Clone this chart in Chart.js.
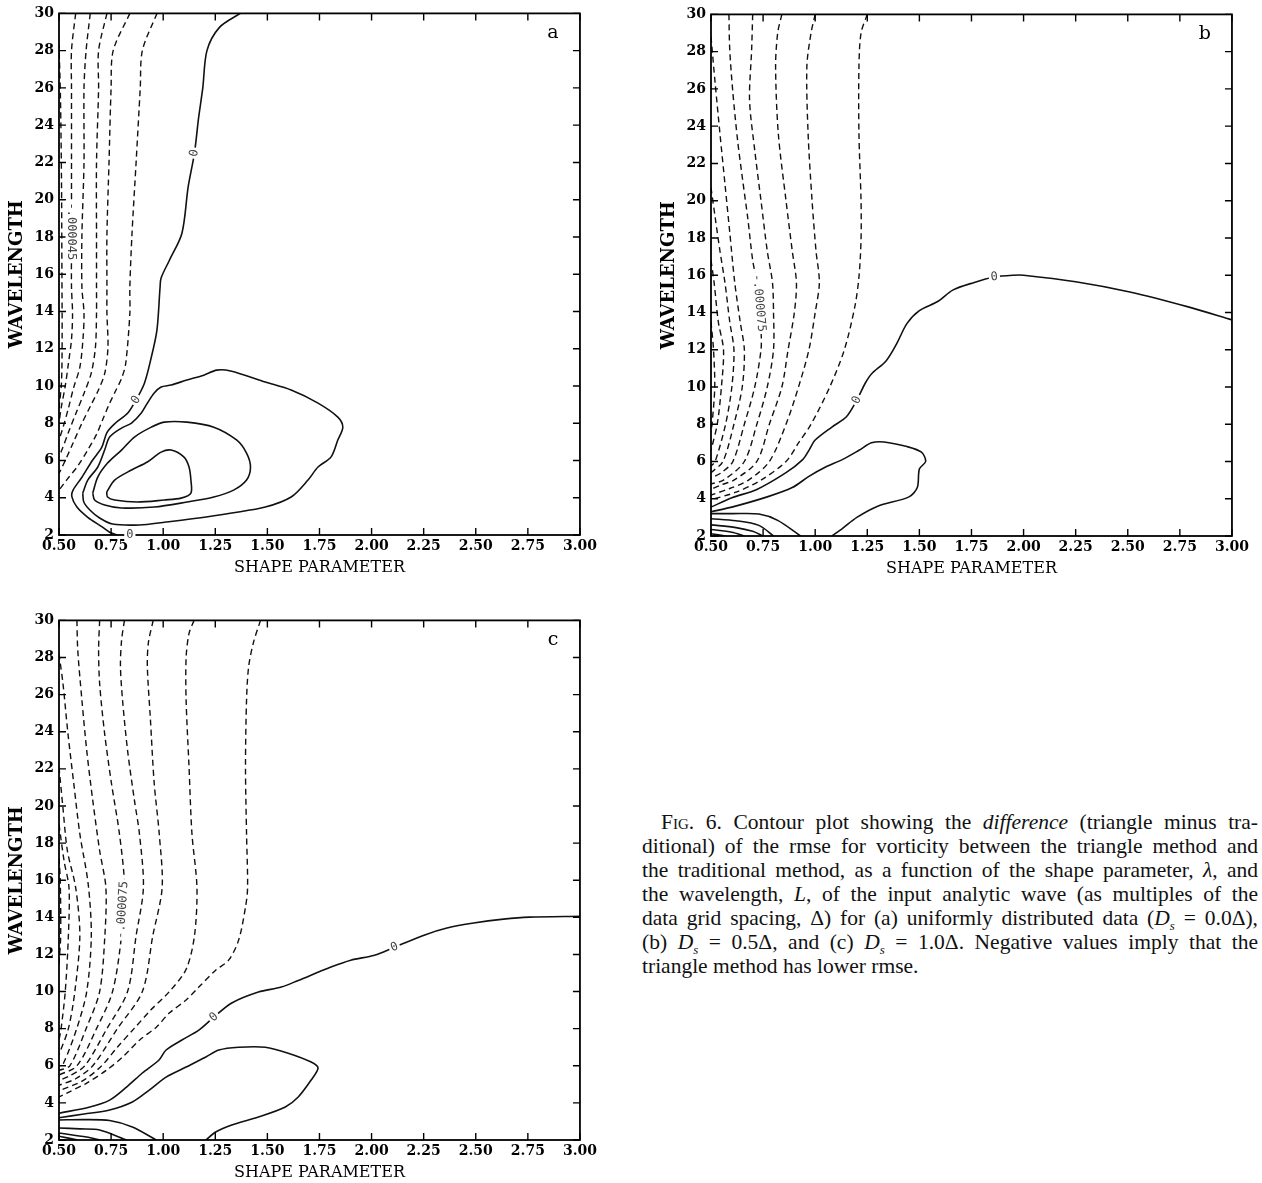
<!DOCTYPE html>
<html>
<head>
<meta charset="utf-8">
<title>Fig. 6 contour plots</title>
<script src="https://cdn.jsdelivr.net/npm/chart.js@4.4.1/dist/chart.umd.min.js"></script>
<style>
	html, body { margin: 0; padding: 0; background: #fff; }
	body { width: 1262px; height: 1183px; overflow: hidden; position: relative; }
	.panel { position: absolute; }
	#caption {
		position: absolute; left: 642px; top: 810px; width: 616px;
		font-family: 'Liberation Serif', 'Times New Roman', serif;
		font-size: 21.5px; line-height: 24px; color: #111;
	}
	#caption .ln { text-align: justify; text-align-last: justify; }
	#caption .first { padding-left: 19px; }
	#caption sub { font-size: 0.6em; vertical-align: -0.35em; line-height: 0; }
	.sc { font-variant: small-caps; }
</style>
</head>
<body>
<div class="panel" style="left:0;top:0"><canvas id="chartA" width="600" height="590"></canvas></div>
<div class="panel" style="left:652px;top:1px"><canvas id="chartB" width="600" height="590"></canvas></div>
<div class="panel" style="left:0;top:607px"><canvas id="chartC" width="600" height="588"></canvas></div>

<div id="caption">
	<div class="ln first">F<span class="sc">ig</span>. 6. Contour plot showing the <i>difference</i> (triangle minus tra-</div>
	<div class="ln">ditional) of the rmse for vorticity between the triangle method and</div>
	<div class="ln">the traditional method, as a function of the shape parameter, <i>λ</i>, and</div>
	<div class="ln">the wavelength, <i>L</i>, of the input analytic wave (as multiples of the</div>
	<div class="ln">data grid spacing, Δ) for (a) uniformly distributed data (<i>D<sub>s</sub></i> = 0.0Δ),</div>
	<div class="ln">(b) <i>D<sub>s</sub></i> = 0.5Δ, and (c) <i>D<sub>s</sub></i> = 1.0Δ. Negative values imply that the</div>
	<div>triangle method has lower rmse.</div>
</div>

<script>
(function () {
	'use strict';

	// axes: shape parameter (x) and wavelength (y)
	const xTicks = [0.5, 0.75, 1.0, 1.25, 1.5, 1.75, 2.0, 2.25, 2.5, 2.75, 3.0];
	const yTicks = [2, 4, 6, 8, 10, 12, 14, 16, 18, 20, 22, 24, 26, 28, 30];

	// ---- panel a : Ds = 0.0 ----
	const aZero = [[1.37,30],[1.27,29.25],[1.21,28],[1.19,26],[1.17,24.4],[1.15,22.5],[1.12,20.7],[1.09,18.2],[1.03,16.75],[0.99,15.8],[0.985,15.3],[0.97,13.0],[0.94,11.4],[0.91,10.15],[0.87,9.25],[0.83,8.55],[0.77,8.0],[0.73,7.5],[0.705,6.7],[0.66,6.0],[0.61,5.1],[0.567,4.4],[0.562,4.05],[0.586,3.5],[0.638,2.95],[0.705,2.45],[0.743,2.15],[0.78,2.0]];
	const aPos1 = [[0.614,4.25],[0.638,4.95],[0.686,5.65],[0.719,6.56],[0.743,7.26],[0.80,7.74],[0.848,8.01],[0.895,8.55],[0.924,9.08],[0.957,9.62],[0.99,9.94],[1.038,10.05],[1.114,10.32],[1.195,10.58],[1.257,10.85],[1.324,10.80],[1.49,10.21],[1.614,9.78],[1.743,9.08],[1.838,8.33],[1.862,7.79],[1.838,7.10],[1.805,6.18],[1.743,5.65],[1.695,4.95],[1.614,4.04],[1.49,3.50],[1.329,3.18],[1.171,2.91],[1.014,2.70],[0.886,2.54],[0.757,2.59],[0.695,2.91],[0.648,3.34],[0.619,3.77],[0.614,4.25]];
	const aPos2 = [[0.662,4.25],[0.686,5.11],[0.733,5.86],[0.80,6.56],[0.862,7.26],[0.943,7.79],[1.005,8.06],[1.114,8.06],[1.243,7.79],[1.352,7.10],[1.40,6.40],[1.419,5.65],[1.40,4.95],[1.338,4.41],[1.243,4.04],[1.114,3.77],[0.957,3.50],[0.80,3.45],[0.719,3.61],[0.671,3.88],[0.662,4.25]];
	const aPos3 = [[0.729,4.31],[0.767,4.95],[0.848,5.49],[0.924,5.92],[0.99,6.45],[1.038,6.56],[1.10,6.18],[1.124,5.65],[1.133,4.95],[1.133,4.25],[1.086,3.98],[1.005,3.88],[0.876,3.77],[0.767,3.88],[0.733,4.04],[0.729,4.31]];
	const aNeg1 = [[0.97,30],[0.90,28],[0.89,26],[0.87,22],[0.85,18.1],[0.84,15.3],[0.84,13.9],[0.82,11.2],[0.80,10.4],[0.77,9.7],[0.74,9.0],[0.71,8.2],[0.68,7.4],[0.64,6.6],[0.59,5.7],[0.54,5.0],[0.50,4.4]];
	const aNeg2 = [[0.84,30],[0.76,28],[0.75,26],[0.74,22],[0.73,18.1],[0.73,15.3],[0.73,13.9],[0.735,12.1],[0.72,10.7],[0.69,9.8],[0.65,8.9],[0.61,8.0],[0.57,7.0],[0.53,6.0],[0.50,5.3]];
	const aNeg3 = [[0.73,30],[0.69,28],[0.69,26],[0.68,22],[0.68,18.1],[0.68,15.3],[0.68,13.9],[0.675,12.1],[0.655,10.7],[0.62,9.6],[0.58,8.5],[0.545,7.5],[0.515,6.6],[0.50,6.2]];
	const aNeg4 = [[0.65,30],[0.63,28],[0.62,26],[0.62,22],[0.61,18.1],[0.61,15.3],[0.62,13.9],[0.615,12.5],[0.60,11.0],[0.57,9.9],[0.545,8.8],[0.52,7.8],[0.50,7.1]];
	const aNeg5 = [[0.58,30],[0.56,28],[0.56,26],[0.56,22],[0.56,18.1],[0.56,15.3],[0.565,13.9],[0.56,12.5],[0.545,11.2],[0.53,10.0],[0.51,8.8],[0.50,8.0]];
	const aNeg6 = [[0.50,8.8],[0.512,10.2],[0.515,12.5],[0.514,16],[0.512,21],[0.507,25.5],[0.50,28.3]];
	const aLabels = [
		{ x: 1.15, y: 22.5, text: '0', on: aZero },
		{ x: 0.87, y: 9.25, text: '0', on: aZero },
		{ x: 0.84, y: 2.0, text: '0', on: null },
		{ x: 0.56, y: 18.3, text: '-.000045', on: aNeg5 }
	];

	// ---- panel b : Ds = 0.5 ----
	const bZero = [[3.0,13.6],[2.79,14.3],[2.51,15.1],[2.25,15.65],[2.0,16.0],[1.95,16.0],[1.86,15.9],[1.76,15.6],[1.66,15.2],[1.59,14.6],[1.5,14.1],[1.44,13.4],[1.39,12.3],[1.34,11.4],[1.27,10.7],[1.24,10.2],[1.20,9.3],[1.15,8.4],[1.08,7.85],[1.0,7.15],[0.97,6.6],[0.94,6.1],[0.86,5.4],[0.72,4.5],[0.60,4.05],[0.5,3.55]];
	const bPos1 = [[0.5,3.3],[0.6,3.55],[0.77,4.1],[0.89,4.6],[0.97,5.2],[1.05,5.7],[1.13,6.1],[1.21,6.6],[1.27,7.0],[1.33,7.05],[1.44,6.8],[1.51,6.5],[1.53,6.0],[1.50,5.6],[1.49,4.6],[1.45,4.1],[1.30,3.6],[1.20,3.0],[1.13,2.4],[1.08,2.0]];
	const bLow1 = [[0.5,3.2],[0.6,3.2],[0.73,3.18],[0.82,2.84],[0.93,2.0]];
	const bLow2 = [[0.5,2.93],[0.62,2.82],[0.73,2.57],[0.80,2.0]];
	const bLow3 = [[0.5,2.6],[0.62,2.45],[0.70,2.25],[0.75,2.0]];
	const bLow4 = [[0.5,2.35],[0.6,2.2],[0.66,2.0]];
	const bLow5 = [[0.5,2.12],[0.57,2.0]];
	const bNegA = [[1.25,30],[1.22,29],[1.21,27.2],[1.21,23.6],[1.22,20],[1.22,17.9],[1.21,15.9],[1.19,14.3],[1.14,12],[1.07,10],[0.98,8],[0.92,7],[0.86,6],[0.74,5],[0.62,4.35],[0.5,3.95]];
	const bNegB = [[1.0,30],[0.98,29],[0.96,27.2],[0.966,23.6],[0.985,20],[1.004,17.3],[1.02,15.6],[1.0,14],[0.97,12],[0.92,10],[0.86,8],[0.78,6],[0.68,5],[0.59,4.55],[0.5,4.2]];
	const bNegC = [[0.84,30],[0.82,29],[0.81,27.2],[0.823,23.6],[0.86,20],[0.89,17.3],[0.91,15.6],[0.90,14],[0.87,12],[0.84,10],[0.78,8],[0.72,6],[0.61,5],[0.55,4.75],[0.5,4.5]];
	const bNegD = [[0.70,30],[0.695,28.1],[0.685,25.4],[0.71,22.7],[0.74,20],[0.77,17.3],[0.795,15.6],[0.80,14],[0.80,12],[0.77,10],[0.72,8],[0.66,6],[0.56,5.0],[0.5,4.8]];
	const bNegE = [[0.586,30],[0.59,28.1],[0.605,25.8],[0.628,23.2],[0.652,21.1],[0.676,19.1],[0.70,16.8],[0.72,15.6],[0.74,13],[0.74,12],[0.71,10],[0.66,8],[0.605,6],[0.55,5.4],[0.5,5.1]];
	const bNegF = [[0.5,28.8],[0.52,26.3],[0.543,23.6],[0.567,20.9],[0.59,18.3],[0.614,15.6],[0.64,13.5],[0.66,12],[0.65,10],[0.61,8],[0.557,6],[0.5,5.4]];
	const bNegG = [[0.5,20.7],[0.52,19.1],[0.543,17.3],[0.567,15.6],[0.59,13.5],[0.61,12],[0.60,10],[0.57,8],[0.52,6],[0.5,5.75]];
	const bNegH = [[0.5,16.8],[0.515,15.6],[0.535,13.5],[0.56,12],[0.55,10],[0.53,8],[0.5,6.6]];
	const bNegI = [[0.5,13.5],[0.512,12],[0.518,10],[0.505,8],[0.5,7.6]];
	const bLabels = [
		{ x: 1.86, y: 15.9, text: '0', on: bZero },
		{ x: 1.20, y: 9.3, text: '0', on: bZero },
		{ x: 0.73, y: 14.5, text: '-.000075', on: bNegE }
	];

	// ---- panel c : Ds = 1.0 ----
	const cZero = [[3.0,14.06],[2.757,14.01],[2.633,13.90],[2.49,13.69],[2.362,13.42],[2.252,13.04],[2.11,12.39],[2.014,11.96],[1.90,11.69],[1.805,11.32],[1.648,10.6],[1.567,10.24],[1.457,9.97],[1.329,9.38],[1.243,8.62],[1.171,7.92],[1.09,7.39],[1.014,6.85],[0.98,6.31],[0.90,5.61],[0.824,4.85],[0.743,4.15],[0.648,3.78],[0.5,3.44]];
	const cPos1 = [[0.5,3.2],[0.62,3.4],[0.743,3.62],[0.852,4.05],[0.933,4.69],[1.014,5.39],[1.11,5.93],[1.205,6.47],[1.267,6.85],[1.362,7.0],[1.49,7.0],[1.60,6.68],[1.71,6.2],[1.743,5.88],[1.71,5.23],[1.648,4.32],[1.586,3.78],[1.457,3.24],[1.329,2.81],[1.252,2.43],[1.205,2.0]];
	const cLow1 = [[0.5,3.08],[0.62,3.1],[0.743,3.05],[0.852,2.7],[0.967,2.0]];
	const cLow2 = [[0.5,2.65],[0.6,2.6],[0.695,2.54],[0.824,2.0]];
	const cLow3 = [[0.5,2.38],[0.633,2.16],[0.695,2.0]];
	const cLow4 = [[0.5,2.2],[0.59,2.0]];
	const cNeg1 = [[1.467,30],[1.433,28.8],[1.41,27.5],[1.40,25.7],[1.395,22.1],[1.40,18.5],[1.405,15.6],[1.395,14.55],[1.362,12.77],[1.314,11.69],[1.252,11.15],[1.171,10.24],[1.11,9.54],[1.029,8.84],[0.967,8.08],[0.886,7.38],[0.805,6.47],[0.729,5.77],[0.633,5.07],[0.538,4.53],[0.5,4.32]];
	const cNeg2 = [[1.148,30],[1.124,29.3],[1.11,28.0],[1.11,25.7],[1.124,22.1],[1.138,18.5],[1.162,15.6],[1.15,13],[1.11,11.2],[1.03,10],[0.94,9],[0.86,8],[0.78,7],[0.705,6],[0.615,5.2],[0.5,4.65]];
	const cNeg3 = [[0.952,30],[0.929,28.8],[0.924,27.5],[0.938,24.8],[0.957,21.2],[0.981,18.5],[0.995,15.6],[0.95,13],[0.90,10],[0.78,8],[0.662,6],[0.58,5.3],[0.5,4.95]];
	const cNeg4 = [[0.814,30],[0.80,28.9],[0.795,27.5],[0.805,25.7],[0.829,23.0],[0.862,20.3],[0.886,18.5],[0.905,15.6],[0.87,13],[0.829,10],[0.73,8],[0.624,6],[0.55,5.45],[0.5,5.2]];
	const cNeg5 = [[0.695,30],[0.69,28.4],[0.695,26.6],[0.719,23.9],[0.752,21.2],[0.79,18.5],[0.815,15.6],[0.80,13],[0.757,10],[0.68,8],[0.586,6],[0.5,5.5]];
	const cNeg6 = [[0.586,30],[0.59,28.4],[0.61,25.7],[0.633,23.0],[0.662,20.3],[0.695,17.6],[0.725,15.6],[0.72,13],[0.695,10],[0.63,8],[0.552,6],[0.5,5.75]];
	const cNeg7 = [[0.5,28.2],[0.519,26.6],[0.543,23.9],[0.571,21.2],[0.60,18.5],[0.64,15.8],[0.655,13],[0.633,10],[0.585,8],[0.52,6.1],[0.5,6.0]];
	const cNeg8 = [[0.5,22.1],[0.519,19.9],[0.54,17.6],[0.58,15.6],[0.60,13],[0.576,10],[0.545,8],[0.5,6.6]];
	const cNeg9 = [[0.5,19],[0.525,17],[0.548,15.6],[0.545,13],[0.53,10],[0.51,8],[0.5,7.4]];
	const cNeg10 = [[0.5,17.2],[0.506,16],[0.508,13],[0.5,11.5]];
	const cLabels = [
		{ x: 1.243, y: 8.62, text: '0', on: cZero },
		{ x: 2.11, y: 12.39, text: '0', on: cZero },
		{ x: 0.805, y: 14.4, text: '-.000075', on: cNeg5 }
	];

	const SERIF = "'DejaVu Serif', serif";
	const INK = '#111';

	function contourSet(arr, dashed) {
		return {
			data: arr.map(p => ({ x: p[0], y: p[1] })),
			showLine: true,
			pointRadius: 0,
			borderColor: INK,
			borderWidth: dashed ? 1.4 : 1.6,
			borderDash: dashed ? [6, 4] : [],
			tension: 0.3
		};
	}

	// angle of the contour segment nearest a label, kept readable
	function labelAngle(chart, lab) {
		if (!lab.on) return 0;
		const xs = chart.scales.x, ys = chart.scales.y;
		const px = xs.getPixelForValue(lab.x), py = ys.getPixelForValue(lab.y);
		let best = Infinity, ang = 0;
		for (let i = 0; i < lab.on.length - 1; i++) {
			const x1 = xs.getPixelForValue(lab.on[i][0]), y1 = ys.getPixelForValue(lab.on[i][1]);
			const x2 = xs.getPixelForValue(lab.on[i + 1][0]), y2 = ys.getPixelForValue(lab.on[i + 1][1]);
			const d = Math.hypot((x1 + x2) / 2 - px, (y1 + y2) / 2 - py);
			if (d < best) { best = d; ang = Math.atan2(y2 - y1, x2 - x1); }
		}
		if (ang > Math.PI / 2) ang -= Math.PI;
		if (ang <= -Math.PI / 2) ang += Math.PI;
		return ang;
	}

	function makeFramePlugin(labels, letter) {
		return {
			id: 'frame',
			afterDatasetsDraw(chart) {
				const { ctx, chartArea: { left, right, top, bottom }, scales: { x, y } } = chart;
				ctx.save();
				ctx.strokeStyle = '#000';
				ctx.lineWidth = 1.8;
				ctx.strokeRect(left, top, right - left, bottom - top);
				ctx.lineWidth = 1.4;
				ctx.beginPath();
				xTicks.forEach(v => {
					const px = x.getPixelForValue(v);
					ctx.moveTo(px, bottom); ctx.lineTo(px, bottom - 7);
					ctx.moveTo(px, top); ctx.lineTo(px, top + 7);
				});
				yTicks.forEach(v => {
					const py = y.getPixelForValue(v);
					ctx.moveTo(left, py); ctx.lineTo(left + 7, py);
					ctx.moveTo(right, py); ctx.lineTo(right - 7, py);
				});
				ctx.stroke();

				// contour value labels
				ctx.font = "12px 'DejaVu Sans Mono', monospace";
				ctx.textAlign = 'center';
				ctx.textBaseline = 'middle';
				labels.forEach(lab => {
					const px = x.getPixelForValue(lab.x), py = y.getPixelForValue(lab.y);
					const w = ctx.measureText(lab.text).width;
					ctx.save();
					ctx.translate(px, py);
					ctx.rotate(labelAngle(chart, lab));
					ctx.fillStyle = '#fff';
					ctx.fillRect(-w / 2 - 2, -6, w + 4, 12);
					ctx.fillStyle = '#444';
					ctx.fillText(lab.text, 0, 0);
					ctx.restore();
				});

				// panel letter
				ctx.font = '19px ' + SERIF;
				ctx.fillStyle = '#000';
				ctx.fillText(letter, right - 27, top + 20);
				ctx.restore();
			}
		};
	}

	function buildPanel(id, solids, dashes, labels, letter, rightPad) {
		const tickFont = { family: SERIF, size: 14, weight: 'bold' };
		return new Chart(document.getElementById(id), {
			type: 'scatter',
			data: {
				datasets: solids.map(s => contourSet(s, false)).concat(dashes.map(d => contourSet(d, true)))
			},
			options: {
				responsive: false,
				animation: false,
				events: [],
				layout: { padding: { left: 0, top: 13, right: rightPad, bottom: 0 } },
				plugins: { legend: { display: false }, tooltip: { enabled: false } },
				scales: {
					x: {
						type: 'linear', min: 0.5, max: 3.0,
						afterBuildTicks: s => { s.ticks = xTicks.map(v => ({ value: v })); },
						afterFit: s => { s.height = 55; },
						grid: { display: false, drawTicks: false },
						border: { display: false },
						ticks: { callback: v => Number(v).toFixed(2), font: tickFont, color: '#000', padding: 3, maxRotation: 0, autoSkip: false },
						title: { display: true, text: 'SHAPE PARAMETER', color: '#000', font: { family: SERIF, size: 16 }, padding: { top: 0, bottom: 13 } }
					},
					y: {
						type: 'linear', min: 2, max: 30,
						afterBuildTicks: s => { s.ticks = yTicks.map(v => ({ value: v })); },
						afterFit: s => { s.width = 59; },
						grid: { display: false, drawTicks: false },
						border: { display: false },
						ticks: { font: tickFont, color: '#000', padding: 5, autoSkip: false },
						title: { display: true, text: 'WAVELENGTH', color: '#000', font: { family: SERIF, size: 18, weight: 'bold' }, padding: { top: 7, bottom: 0 } }
					}
				}
			},
			plugins: [makeFramePlugin(labels, letter)]
		});
	}

	buildPanel('chartA', [aZero, aPos1, aPos2, aPos3], [aNeg1, aNeg2, aNeg3, aNeg4, aNeg5, aNeg6], aLabels, 'a', 16);
	buildPanel('chartB', [bZero, bPos1, bLow1, bLow2, bLow3, bLow4, bLow5], [bNegA, bNegB, bNegC, bNegD, bNegE, bNegF, bNegG, bNegH, bNegI], bLabels, 'b', 15);
	buildPanel('chartC', [cZero, cPos1, cLow1, cLow2, cLow3, cLow4], [cNeg1, cNeg2, cNeg3, cNeg4, cNeg5, cNeg6, cNeg7, cNeg8, cNeg9, cNeg10], cLabels, 'c', 16);
})();
</script>
</body>
</html>
